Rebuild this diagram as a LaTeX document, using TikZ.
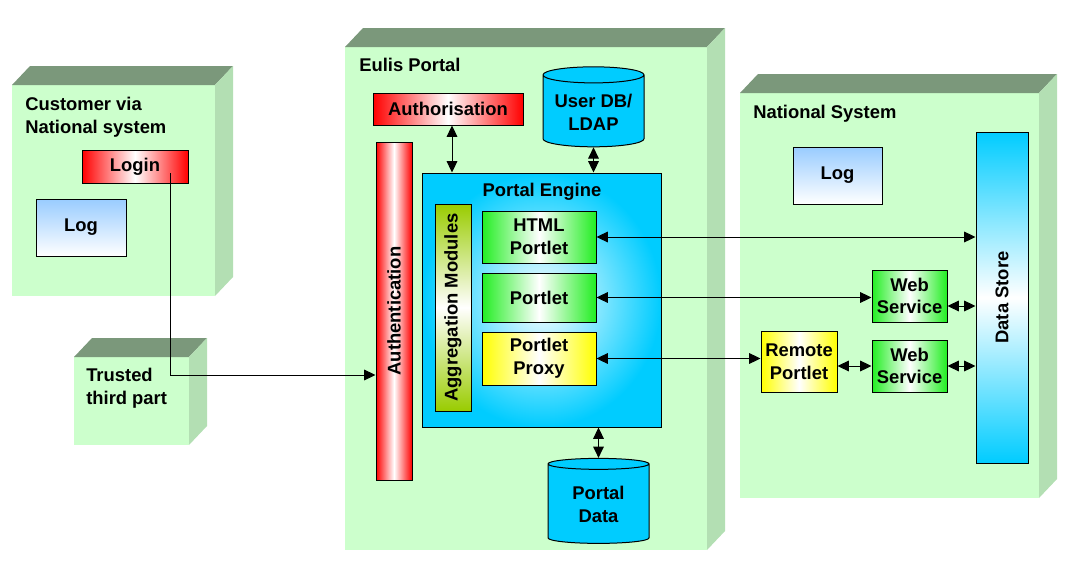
\documentclass[tikz,border=0pt]{standalone}
\usepackage{fontspec}
\setmainfont{Liberation Sans}
\usetikzlibrary{arrows.meta,positioning,shapes.geometric,calc}

\definecolor{blockfront}{HTML}{CCFFCC}
\definecolor{blocktop}{HTML}{7B987B}
\definecolor{blockside}{HTML}{B3DFB3}
\definecolor{dbcyan}{HTML}{00CCFF}
\definecolor{logblue}{HTML}{99CCFF}
\definecolor{portgreen}{HTML}{22EE22}
\definecolor{aggrolive}{HTML}{99CC00}

% front, top and side face of a green block
\newcommand{\greenblock}[4]{%
  \fill[blockfront] (#1,#2) rectangle (#3,#4);
  \fill[blocktop] (#1,#2) -- (#1+18,#2-19) -- (#3+18,#2-19) -- (#3,#2) -- cycle;
  \fill[blockside] (#3,#2) -- (#3+18,#2-19) -- (#3+18,#4-19) -- (#3,#4) -- cycle;
}

\begin{document}
\begin{tikzpicture}[
  x=0.75pt, y=-0.75pt,
  txt/.style={font=\bfseries\fontsize{13.8}{17}\selectfont, align=center, inner sep=1pt},
  box/.style={txt, draw, line width=0.75pt},
  redbox/.style={box, left color=red, right color=red, middle color=white},
  greenbox/.style={box, left color=portgreen, right color=portgreen, middle color=white},
  yellowbox/.style={box, left color=yellow, right color=yellow, middle color=white},
  logbox/.style={box, top color=logblue, bottom color=white},
  db/.style={txt, draw, line width=0.75pt, cylinder, shape border rotate=90, aspect=0.2, fill=dbcyan},
  title/.style={txt, align=left, anchor=north west, inner sep=0pt},
  arr/.style={{Triangle[length=8.5pt,width=8pt]}-{Triangle[length=8.5pt,width=8pt]}, line width=0.75pt},
  one/.style={-{Triangle[length=8.5pt,width=8pt]}, line width=0.75pt}
]
  \useasboundingbox (0,0) rectangle (1078,564);

  % Blocks
  \greenblock{12}{85}{215}{296}
  \greenblock{74}{357}{189}{445}
  \greenblock{345}{47}{707}{550}
  \greenblock{740}{93}{1039}{498}

  % Customer side
  \node[title] (custname) at (25,97) {Customer via\\National system};
  \node[redbox, minimum width=79.5pt, minimum height=24.75pt] (login) at (135,166.5) {Login};
  \node[logbox, minimum width=67.5pt, minimum height=42.75pt] (custlog) at (81,227.5) {Log};
  \node[title] (trustname) at (86,368) {Trusted\\third part};

  % Eulis Portal
  \node[title] (eulisname) at (359,58) {Eulis Portal};
  \node[redbox, minimum width=112.5pt, minimum height=24pt] (authz) at (448,109) {Authorisation};
  \node[db, minimum width=75.75pt, minimum height=60pt] (userdb) at (593.5,112) {User DB/\\LDAP};
  \node[box, left color=red, right color=red, middle color=white,
        minimum width=27pt, minimum height=253.5pt] (authn) at (394,311) {\rotatebox{90}{Authentication}};
  \node[box, shading=radial, inner color=white, outer color=dbcyan,
        minimum width=179.25pt, minimum height=190.5pt] (engine) at (541.5,300) {};
  \node[txt] (enginename) at (542,192) {Portal Engine};
  \node[box, top color=aggrolive, bottom color=aggrolive, middle color=white,
        minimum width=27pt, minimum height=155.25pt] (aggr) at (453,307.5) {\rotatebox{90}{Aggregation Modules}};
  \node[greenbox, minimum width=85.5pt, minimum height=39pt] (html) at (539,237) {HTML\\Portlet};
  \node[greenbox, minimum width=85.5pt, minimum height=36.75pt] (portlet) at (539,297.5) {Portlet};
  \node[yellowbox, minimum width=85.5pt, minimum height=39.75pt] (proxy) at (539,358.5) {Portlet\\Proxy};
  \node[db, minimum width=75.75pt, minimum height=63.75pt] (pdata) at (598.5,504.5) {Portal\\Data};

  % National System
  \node[title] (natname) at (753,105) {National System};
  \node[logbox, minimum width=66.75pt, minimum height=42.75pt] (natlog) at (837.5,175.5) {Log};
  \node[box, top color=dbcyan, bottom color=dbcyan, middle color=white,
        minimum width=39pt, minimum height=248.25pt] (store) at (1002,297.5) {\rotatebox{90}{Data Store}};
  \node[greenbox, minimum width=56.25pt, minimum height=39pt] (ws1) at (909.5,296) {Web\\Service};
  \node[greenbox, minimum width=56.25pt, minimum height=39pt] (ws2) at (909.5,366) {Web\\Service};
  \node[yellowbox, minimum width=57pt, minimum height=45.75pt] (remote) at (799,361.5) {Remote\\Portlet};

  % Connectors
  \coordinate (lgin) at (170,173);
  \draw[one] (lgin) |- ([yshift=-48pt]authn.west);
  \draw[arr] ([xshift=3pt]authz.south) -- ([xshift=3pt]authz.south |- engine.north);
  \draw[arr] (userdb.south) -- (userdb.south |- engine.north);
  \draw[arr] (pdata.north |- engine.south) -- (pdata.north);
  \draw[arr] (html.east) -- (html.east -| store.west);
  \draw[arr] (portlet.east) -- (portlet.east -| ws1.west);
  \draw[arr] (proxy.east) -- (proxy.east -| remote.west);
  \draw[arr] (remote.east |- ws2.west) -- (ws2.west);
  \draw[arr] ([yshift=-7.5pt]ws1.east) -- ([yshift=-7.5pt]ws1.east -| store.west);
  \draw[arr] (ws2.east) -- (ws2.east -| store.west);
\end{tikzpicture}
\end{document}
